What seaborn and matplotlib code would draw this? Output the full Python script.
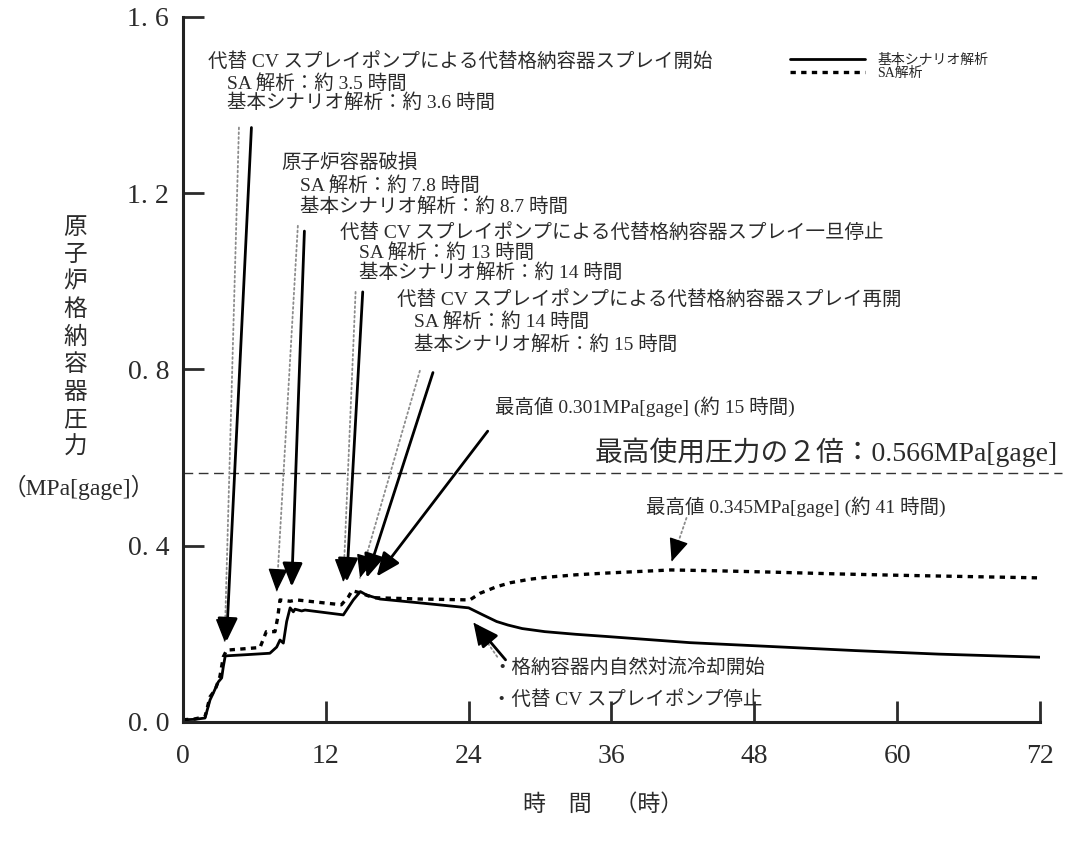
import numpy as np
import pandas as pd
import matplotlib
matplotlib.use("Agg")
import matplotlib.pyplot as plt
from matplotlib.ticker import FuncFormatter
import seaborn as sns

# === Data ===
t_base = [0, 1.0, 1.85, 2.27, 2.55, 2.97, 3.25, 3.39, 3.55, 5.5, 7.3, 7.87, 8.15, 8.43, 8.71,
          9.0, 9.27, 9.41, 9.97, 10.25, 13.47, 14.31, 14.9, 15.43, 16.55, 20.0, 24.0, 25.2,
          26.35, 27.3, 28.5, 30.4, 33.0, 35.6, 42.6, 49.6, 56.5, 63.5, 72]
p_base = [0.005, 0.006, 0.009, 0.05, 0.066, 0.091, 0.10, 0.126, 0.150, 0.153, 0.156, 0.170, 0.186,
          0.179, 0.228, 0.259, 0.250, 0.256, 0.252, 0.254, 0.243, 0.277, 0.296, 0.288, 0.279,
          0.270, 0.259, 0.243, 0.228, 0.220, 0.212, 0.205, 0.199, 0.194, 0.180, 0.171, 0.162,
          0.154, 0.147]

t_sa = [0, 1.0, 1.85, 2.27, 2.7, 3.1, 3.39, 3.67, 6.47, 7.0, 7.73, 7.95, 8.15, 9.0, 9.55, 13.3,
        13.9, 14.2, 14.9, 16.0, 20.0, 24.1, 24.95, 26.35, 27.5, 29.15, 30.4, 33.0, 35.6, 41.0,
        45.0, 49.6, 55.0, 60.0, 66.0, 72]
p_sa = [0.005, 0.007, 0.012, 0.057, 0.073, 0.103, 0.148, 0.163, 0.169, 0.205, 0.205, 0.236, 0.277,
        0.274, 0.277, 0.266, 0.284, 0.298, 0.293, 0.282, 0.279, 0.277, 0.292, 0.307, 0.316,
        0.324, 0.328, 0.334, 0.338, 0.345, 0.343, 0.340, 0.336, 0.333, 0.330, 0.327]

label_base = "基本シナリオ解析"
label_sa = "SA解析"
max_use_pressure = 0.566

x_ticks = [0, 12, 24, 36, 48, 60, 72]
y_ticks = [0.0, 0.4, 0.8, 1.2, 1.6]
y_title = "原子炉格納容器圧力"

# === Style ===
sns.set_style("ticks")
FONT = ["Liberation Serif", "Noto Sans CJK JP", "DejaVu Sans"]
plt.rcParams["font.family"] = FONT
plt.rcParams["axes.unicode_minus"] = False
INK = "#2b2b2b"

fig = plt.figure(figsize=(10.67, 8.47), dpi=100)
ax = fig.add_axes([0.1715, 0.1476, 0.8032, 0.8324])

df_base = pd.DataFrame({"t": t_base, "p": p_base})
df_sa = pd.DataFrame({"t": t_sa, "p": p_sa})

sns.lineplot(data=df_base, x="t", y="p", ax=ax, color="black", lw=2.0, label=label_base)
sns.lineplot(data=df_sa, x="t", y="p", ax=ax, color="black", lw=2.4,
             linestyle=(0, (1.6, 1.6)), label=label_sa)

ax.axhline(max_use_pressure, xmin=0, xmax=1.026, color="#333333", lw=1.0,
           linestyle=(0, (7, 4)), clip_on=False)

ax.set_xlim(0, 72)
ax.set_ylim(0, 1.6)
ax.set_xticks(x_ticks)
ax.set_yticks(y_ticks)
ax.yaxis.set_major_formatter(FuncFormatter(lambda v, _: f"{v:.1f}".replace(".", ". ")))
ax.tick_params(direction="in", length=15, width=2, labelsize=20, colors=INK)
ax.tick_params(axis="x", pad=16)
ax.tick_params(axis="y", pad=10)
for s in ["top", "right"]:
    ax.spines[s].set_visible(False)
for s in ["left", "bottom"]:
    ax.spines[s].set_linewidth(2.2)
    ax.spines[s].set_color("#222222")
ax.set_xlabel("")
ax.set_ylabel("")

# axis titles (vertical, one character per row)
for i, ch in enumerate(y_title):
    fig.text(0.0705, 1 - (228 + i * 27.5) / 847, ch, fontsize=17, ha="center", va="center",
             family=FONT, color=INK)
fig.text(0.074, 1 - 487 / 847, "（MPa[gage]）", fontsize=17, ha="center", va="center",
         family=FONT, color=INK)
fig.text(0.565, 1 - 805 / 847, "時　間　（時）", fontsize=16.5, ha="center", va="center",
         family=FONT, color=INK)

# legend
ax.legend(loc="upper left", bbox_to_anchor=(0.694, 0.966), frameon=False, fontsize=10,
          handlelength=5.4, labelspacing=0.05, handletextpad=0.85)

# === Annotations ===
txt_kw = dict(fontsize=14, ha="left", va="center", family=FONT, color=INK)
ax.text(2.1, 1.500, "代替 CV スプレイポンプによる代替格納容器スプレイ開始", **txt_kw)
ax.text(3.7, 1.448, "SA 解析：約 3.5 時間", **txt_kw)
ax.text(3.7, 1.405, "基本シナリオ解析：約 3.6 時間", **txt_kw)

ax.text(8.3, 1.269, "原子炉容器破損", **txt_kw)
ax.text(9.8, 1.217, "SA 解析：約 7.8 時間", **txt_kw)
ax.text(9.8, 1.169, "基本シナリオ解析：約 8.7 時間", **txt_kw)

ax.text(13.2, 1.112, "代替 CV スプレイポンプによる代替格納容器スプレイ一旦停止", **txt_kw)
ax.text(14.8, 1.066, "SA 解析：約 13 時間", **txt_kw)
ax.text(14.8, 1.021, "基本シナリオ解析：約 14 時間", **txt_kw)

ax.text(18.0, 0.958, "代替 CV スプレイポンプによる代替格納容器スプレイ再開", **txt_kw)
ax.text(19.4, 0.908, "SA 解析：約 14 時間", **txt_kw)
ax.text(19.4, 0.856, "基本シナリオ解析：約 15 時間", **txt_kw)

ax.text(26.2, 0.715, "最高値 0.301MPa[gage] (約 15 時間)", **txt_kw)
ax.text(34.6, 0.611, "最高使用圧力の２倍：0.566MPa[gage]", fontsize=20, ha="left",
        va="center", family=FONT, color=INK, clip_on=False)
ax.text(38.9, 0.488, "最高値 0.345MPa[gage] (約 41 時間)", **txt_kw)
ax.text(26.0, 0.123, "・格納容器内自然対流冷却開始", **txt_kw)
ax.text(26.0, 0.051, "・代替 CV スプレイポンプ停止", **txt_kw)

head = "-|>,head_length=0.8,head_width=0.34"


def arrow(tip, start, solid=True):
    if solid:
        ax.annotate("", xy=tip, xytext=start,
                    arrowprops=dict(arrowstyle=head, color="black", lw=2.0, shrinkA=0,
                                    shrinkB=0, mutation_scale=18))
        return
    # dotted grey shaft with a solid black head
    ax.annotate("", xy=tip, xytext=start,
                arrowprops=dict(arrowstyle="-", color="#8c8c8c", lw=1.3, linestyle=":",
                                shrinkA=0, shrinkB=0))
    tip_px = ax.transData.transform(tip)
    start_px = ax.transData.transform(start)
    d = (start_px - tip_px) / np.hypot(*(start_px - tip_px))
    near = ax.transData.inverted().transform(tip_px + d * 8)
    ax.annotate("", xy=tip, xytext=tuple(near),
                arrowprops=dict(arrowstyle=head, color="black", lw=1.0, shrinkA=0,
                                shrinkB=0, mutation_scale=18))


arrow((3.5, 0.182), (4.7, 1.349), solid=False)
arrow((3.65, 0.182), (5.75, 1.349))
arrow((7.87, 0.296), (9.65, 1.126), solid=False)
arrow((9.13, 0.307), (10.2, 1.114))
arrow((13.47, 0.318), (14.5, 0.976), solid=False)
arrow((13.75, 0.318), (15.1, 0.976))
arrow((14.87, 0.327), (19.9, 0.797), solid=False)
arrow((15.43, 0.327), (21.0, 0.793))
arrow((16.27, 0.33), (25.6, 0.66))
arrow((41.05, 0.364), (42.3, 0.463), solid=False)
arrow((24.4, 0.226), (26.4, 0.148), solid=False)
arrow((24.5, 0.224), (27.1, 0.141))

fig.savefig("out.png", dpi=100, facecolor="white")
